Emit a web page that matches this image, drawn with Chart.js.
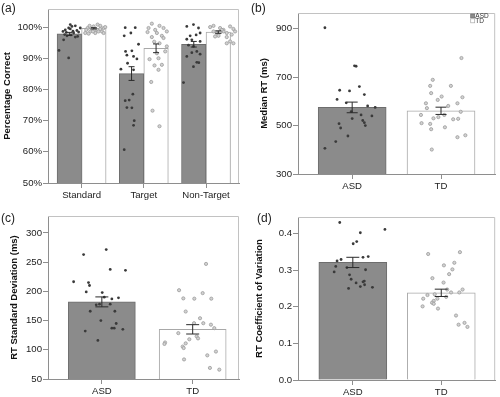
<!DOCTYPE html>
<html>
<head>
<meta charset="utf-8">
<script src="https://cdn.jsdelivr.net/npm/chart.js@4.4.1/dist/chart.umd.min.js"></script>
<style>
  html, body { margin: 0; padding: 0; background: #fff; }
  #figure { position: relative; width: 500px; height: 397px; font-family: "Liberation Sans", Arial, sans-serif; }
  .panel { position: absolute; }
  .tag { position: absolute; font-size: 12px; line-height: 14px; color: #222; }
</style>
</head>
<body>
<div id="figure">
  <div class="panel" style="left:0;top:0;width:250px;height:200px"><canvas id="chartA"></canvas></div>
  <div class="panel" style="left:250px;top:0;width:250px;height:200px"><canvas id="chartB"></canvas></div>
  <div class="panel" style="left:0;top:200px;width:250px;height:197px"><canvas id="chartC"></canvas></div>
  <div class="panel" style="left:250px;top:200px;width:250px;height:197px"><canvas id="chartD"></canvas></div>
  <div class="tag" style="left:1px;top:1px">(a)</div>
  <div class="tag" style="left:251px;top:1px">(b)</div>
  <div class="tag" style="left:1px;top:211px">(c)</div>
  <div class="tag" style="left:257px;top:211px">(d)</div>
</div>
<script>
Chart.defaults.font.family = "'Liberation Sans', Arial, sans-serif";
Chart.defaults.color = "#222";
Chart.defaults.animation = false;

const groupNames = ["ASD", "TD"];
const taskNames = ["Standard", "Target", "Non-Target"];

// (a) percentage correct per task
const accuracyTicks = [50, 60, 70, 80, 90, 100];
const accuracyAsd = [97.8, 85.1, 94.5];
const accuracyAsdSe = [0.5, 2.2, 0.9];
const accuracyTd = [99.6, 93.2, 98.4];
const accuracyTdSe = [0.2, 1.4, 0.4];
const accuracyAsdPoints = [
  [-0.363, 92.5], [-0.208, 90.1], [-0.289, 95.9], [-0.235, 97.2], [-0.299, 98.6], [-0.262, 99.1],
  [-0.208, 99.7], [-0.155, 100.2], [-0.182, 100.8], [-0.101, 100.4], [-0.075, 98.9], [-0.128, 98.1],
  [-0.048, 98.4], [-0.171, 97.5], [-0.101, 96.8], [-0.064, 97.0], [-0.182, 99.4], [-0.272, 97.6],
  [-0.139, 98.7], [-0.021, 99.7], [-0.246, 98.3],
  [0.701, 99.8], [0.862, 99.8], [0.685, 97.2], [0.792, 98.1], [0.915, 94.5], [0.707, 92.2],
  [0.808, 92.4], [0.728, 91.0], [0.835, 90.6], [0.889, 89.8], [0.739, 88.4], [0.632, 86.5],
  [0.835, 86.3], [0.824, 78.5], [0.701, 76.4], [0.765, 76.6], [0.728, 74.2], [0.808, 74.1],
  [0.846, 70.0], [0.835, 68.5], [0.685, 60.7],
  [1.798, 100.8], [1.691, 100.2], [1.879, 99.7], [1.905, 98.1], [1.745, 97.2], [1.841, 97.5],
  [1.691, 96.1], [1.772, 95.9], [1.905, 95.4], [1.718, 94.2], [1.798, 93.8], [1.852, 92.2],
  [1.772, 91.8], [1.691, 90.6], [1.905, 91.3], [1.852, 88.7], [1.884, 88.6], [1.798, 87.3], [1.638, 82.2]
];
const accuracyTdPoints = [
  [0.059, 98.1], [0.097, 99.7], [0.14, 98.6], [0.193, 100.2], [0.247, 99.1], [0.30, 100.4],
  [0.354, 99.7], [0.129, 100.4], [0.22, 98.1], [0.273, 98.6], [0.327, 98.6], [0.166, 99.4],
  [0.075, 99.1], [0.257, 100.8], [0.38, 100.0], [0.209, 99.1], [0.30, 99.4], [0.113, 97.9],
  [0.354, 98.1], [0.182, 98.6],
  [1.129, 101.1], [1.252, 100.4], [1.076, 99.7], [1.317, 99.7], [1.183, 99.1], [1.37, 98.6],
  [1.06, 98.4], [1.21, 98.1], [1.29, 97.2], [1.129, 96.8], [1.317, 96.5], [1.167, 95.3],
  [1.252, 94.8], [1.37, 93.8], [1.344, 92.2], [1.21, 91.6], [1.236, 90.0], [1.092, 89.7],
  [1.172, 87.7], [1.29, 87.9], [1.236, 86.3], [1.119, 82.4], [1.14, 73.2], [1.252, 68.2],
  [2.066, 100.0], [2.12, 100.4], [2.226, 99.7], [2.28, 99.1], [2.387, 100.2], [2.44, 99.4],
  [2.12, 98.6], [2.173, 98.1], [2.28, 98.6], [2.333, 98.1], [2.413, 97.6], [2.2, 97.2],
  [2.253, 99.1], [2.333, 96.8], [2.146, 97.0], [2.387, 95.4], [2.333, 94.8], [2.44, 94.8],
  [2.226, 98.3], [2.467, 98.6]
];

// (b) median RT
const medianTicks = [300, 500, 700, 900];
const medianMeans = [575, 561];
const medianSe = [22, 15];
const medianAsdPoints = [
  [-0.307, 904], [0.026, 747], [0.044, 745], [-0.141, 646], [-0.03, 643], [-0.17, 608],
  [0.081, 661], [0.137, 628], [-0.067, 594], [0.174, 581], [0.259, 575], [-0.011, 558],
  [0.1, 544], [0.222, 540], [0, 529], [0.119, 521], [0.137, 512], [0.148, 500],
  [-0.148, 508], [-0.13, 490], [-0.048, 457], [-0.185, 434], [-0.307, 406]
];
const medianTdPoints = [
  [1.23, 779], [0.907, 689], [0.878, 664], [0.889, 634], [1.111, 664], [1.007, 620],
  [0.963, 606], [0.83, 592], [1.081, 581], [1.185, 592], [1.241, 617], [0.841, 572],
  [0.774, 544], [1.037, 544], [0.97, 535], [0.915, 530], [1.137, 526], [1.193, 528],
  [1.222, 557], [0.781, 510], [0.878, 507], [1.044, 493], [0.889, 485], [1.185, 452],
  [1.274, 460], [0.896, 401]
];

// (c) RT standard deviation
const sdTicks = [50, 100, 150, 200, 250, 300];
const sdMeans = [182, 135];
const sdSe = [8.5, 8];
const sdAsdPoints = [
  [0.048, 271.6], [-0.201, 263], [0.092, 237.5], [0.26, 236], [-0.311, 216.5], [-0.147, 215],
  [-0.136, 210], [-0.172, 199], [0.004, 198], [0.183, 189], [0.11, 187], [0.026, 190],
  [-0.062, 177], [-0.026, 178], [0.092, 178], [0.143, 166], [-0.128, 166], [-0.011, 150],
  [0.158, 145], [0.11, 137], [0.136, 137], [0.231, 135], [-0.183, 132], [-0.044, 116]
];
const sdTdPoints = [
  [1.147, 247], [0.85, 202], [0.897, 188], [1.018, 187.5], [1.11, 197], [1.205, 187.5],
  [0.923, 165.5], [1.081, 154], [1.015, 145.5], [1.117, 145.5], [1.201, 143], [1.238, 137],
  [0.842, 128.5], [1.044, 123], [1.059, 119.5], [0.963, 118], [0.923, 111], [0.89, 105.5],
  [0.901, 103], [0.696, 112.5], [0.689, 110], [1.256, 97], [1.161, 90.5], [0.905, 83.5],
  [1.19, 69], [1.293, 66]
];

// (d) RT coefficient of variation
const cvTicks = [0, 0.1, 0.2, 0.3, 0.4];
const cvMeans = [0.321, 0.238];
const cvSe = [0.014, 0.010];
const cvAsdPoints = [
  [-0.148, 0.43], [0.363, 0.411], [0.085, 0.402], [0.044, 0.378], [0.004, 0.372], [-0.178, 0.325],
  [-0.133, 0.329], [-0.193, 0.31], [-0.211, 0.295], [-0.067, 0.307], [0.115, 0.335], [0.174, 0.337],
  [0.144, 0.301], [-0.037, 0.287], [-0.019, 0.275], [0.037, 0.265], [0.13, 0.27], [0.133, 0.26],
  [0.085, 0.255], [-0.048, 0.25], [0.222, 0.253], [0.115, 0.268]
];
const cvTdPoints = [
  [0.852, 0.344], [1.211, 0.349], [1.148, 0.32], [1.03, 0.313], [1.126, 0.302], [1.089, 0.289],
  [0.9, 0.278], [1.026, 0.266], [0.844, 0.232], [0.796, 0.222], [0.926, 0.234], [0.956, 0.222],
  [0.915, 0.216], [0.896, 0.211], [0.915, 0.208], [0.789, 0.201], [0.963, 0.195], [1.056, 0.227],
  [1.067, 0.247], [1.111, 0.239], [1.204, 0.239], [1.241, 0.247], [1.167, 0.176], [1.196, 0.151],
  [1.263, 0.156], [1.296, 0.145]
];

const colors = {
  asdFill: "#8b8b8b",
  asdEdge: "#6d6d6d",
  tdFill: "#ffffff",
  tdEdge: "#a8a8a8",
  asdDot: "#3a3a3a",
  tdDotFill: "#d2d2d2",
  tdDotEdge: "#9c9c9c",
  frame: "#c2c2c2",
  axis: "#8e8e8e",
  whisker: "#2a2a2a"
};

const errorBarPlugin = {
  id: "errorBars",
  afterDatasetsDraw(chart, args, opts) {
    const { ctx } = chart;
    const yScale = chart.scales.y;
    const half = opts.cap / 2;
    chart.data.datasets.forEach((dataset, di) => {
      if (!dataset.err) {
        return;
      }
      chart.getDatasetMeta(di).data.forEach((bar, i) => {
        const value = dataset.data[i].y;
        const top = yScale.getPixelForValue(value + dataset.err[i]);
        const bottom = yScale.getPixelForValue(value - dataset.err[i]);
        ctx.save();
        ctx.strokeStyle = colors.whisker;
        ctx.lineWidth = 1;
        ctx.beginPath();
        ctx.moveTo(bar.x, top);
        ctx.lineTo(bar.x, bottom);
        ctx.moveTo(bar.x - half, top);
        ctx.lineTo(bar.x + half, top);
        ctx.moveTo(bar.x - half, bottom);
        ctx.lineTo(bar.x + half, bottom);
        ctx.stroke();
        ctx.restore();
      });
    });
  }
};

// top and right sides of the plot box (left/bottom come from the axes)
const framePlugin = {
  id: "plotFrame",
  beforeDatasetsDraw(chart) {
    const { ctx, chartArea } = chart;
    ctx.save();
    ctx.strokeStyle = colors.frame;
    ctx.lineWidth = 1;
    ctx.beginPath();
    ctx.moveTo(chartArea.left, chartArea.top + 0.5);
    ctx.lineTo(chartArea.right - 0.5, chartArea.top + 0.5);
    ctx.lineTo(chartArea.right - 0.5, chartArea.bottom);
    ctx.stroke();
    ctx.restore();
  }
};

const cornerLegendPlugin = {
  id: "cornerLegend",
  afterDraw(chart, args, opts) {
    if (!opts.show) {
      return;
    }
    const { ctx, chartArea } = chart;
    const size = 4;
    const x = chartArea.right - 24.5;
    const fills = [colors.asdFill, colors.tdFill];
    const edges = [colors.asdEdge, colors.tdEdge];
    ctx.save();
    groupNames.forEach((name, i) => {
      const y = chartArea.top + 1 + i * 4.8;
      ctx.fillStyle = fills[i];
      ctx.fillRect(x, y, size, size);
      ctx.strokeStyle = edges[i];
      ctx.lineWidth = 0.7;
      ctx.strokeRect(x, y, size, size);
      ctx.fillStyle = "#333";
      ctx.font = "6.5px 'Liberation Sans', Arial, sans-serif";
      ctx.textBaseline = "middle";
      ctx.fillText(name, x + size + 0.6, y + size / 2 + 0.3);
    });
    ctx.restore();
  }
};

function toXY(pairs) {
  return pairs.map(([x, y]) => ({ x, y }));
}

function buildPanel(canvasId, spec) {
  const datasets = [
    {
      type: "scatter",
      data: toXY(spec.asdPoints),
      backgroundColor: colors.asdDot,
      borderColor: colors.asdDot,
      borderWidth: 0,
      pointRadius: 1.4,
      order: 0
    },
    {
      type: "scatter",
      data: toXY(spec.tdPoints),
      backgroundColor: colors.tdDotFill,
      borderColor: colors.tdDotEdge,
      borderWidth: 0.8,
      pointRadius: 1.6,
      order: 0
    },
    {
      type: "bar",
      label: groupNames[0],
      data: spec.asdBars,
      err: spec.asdErr,
      backgroundColor: colors.asdFill,
      borderColor: colors.asdEdge,
      borderWidth: 1,
      barThickness: spec.barWidth,
      grouped: false,
      order: 1
    },
    {
      type: "bar",
      label: groupNames[1],
      data: spec.tdBars,
      err: spec.tdErr,
      backgroundColor: colors.tdFill,
      borderColor: colors.tdEdge,
      borderWidth: 1,
      barThickness: spec.barWidth,
      grouped: false,
      order: 1
    }
  ];

  return new Chart(document.getElementById(canvasId), {
    type: "scatter",
    data: { datasets },
    options: {
      responsive: true,
      maintainAspectRatio: false,
      layout: { padding: { top: spec.box.top, right: spec.box.right, left: 0, bottom: 0 } },
      plugins: {
        legend: { display: false },
        tooltip: { enabled: false },
        errorBars: { cap: spec.cap },
        cornerLegend: { show: !!spec.legend }
      },
      scales: {
        x: {
          type: "linear",
          min: spec.xMin,
          max: spec.xMax,
          offset: false,
          afterBuildTicks: (scale) => {
            scale.ticks = spec.categories.map((label, i) => ({ value: i }));
          },
          afterFit: (scale) => {
            scale.height = spec.box.xHeight;
          },
          ticks: {
            autoSkip: false,
            maxRotation: 0,
            padding: 2,
            font: { size: 9.6 },
            color: "#222",
            callback: (value, index) => spec.categories[index]
          },
          grid: { drawOnChartArea: false, offset: false, tickLength: 5, color: colors.axis },
          border: { color: colors.axis }
        },
        y: {
          min: spec.yMin,
          max: spec.yMax,
          beginAtZero: false,
          afterBuildTicks: (scale) => {
            scale.ticks = spec.yTicks.map((v) => ({ value: v }));
          },
          afterFit: (scale) => {
            scale.width = spec.box.yWidth;
          },
          ticks: {
            padding: 1,
            font: { size: 9.6 },
            color: "#222",
            callback: spec.yFormat
          },
          grid: { drawOnChartArea: false, tickLength: 5, color: colors.axis },
          border: { color: colors.axis },
          title: {
            display: true,
            text: spec.title,
            font: { size: 9.5, weight: "bold" },
            color: "#111",
            padding: { top: spec.box.titlePad, bottom: 0 }
          }
        }
      }
    },
    plugins: [framePlugin, errorBarPlugin, cornerLegendPlugin]
  });
}

const barShift = 0.197;

buildPanel("chartA", {
  categories: taskNames,
  asdBars: accuracyAsd.map((v, i) => ({ x: i - barShift, y: v })),
  tdBars: accuracyTd.map((v, i) => ({ x: i + barShift, y: v })),
  asdErr: accuracyAsdSe,
  tdErr: accuracyTdSe,
  asdPoints: accuracyAsdPoints,
  tdPoints: accuracyTdPoints,
  xMin: -0.54, xMax: 2.53,
  yMin: 50, yMax: 105.8,
  yTicks: accuracyTicks,
  yFormat: (v) => v + "%",
  title: "Percentage Correct",
  barWidth: 24.5,
  cap: 6,
  box: { yWidth: 48, xHeight: 17, top: 9, right: 11, titlePad: 2 }
});

buildPanel("chartB", {
  categories: groupNames,
  asdBars: [{ x: 0, y: medianMeans[0] }],
  tdBars: [{ x: 1, y: medianMeans[1] }],
  asdErr: [medianSe[0]],
  tdErr: [medianSe[1]],
  asdPoints: medianAsdPoints,
  tdPoints: medianTdPoints,
  xMin: -0.61, xMax: 1.61,
  yMin: 300, yMax: 965,
  yTicks: medianTicks,
  yFormat: (v) => v,
  title: "Median RT (ms)",
  barWidth: 68,
  cap: 11,
  legend: true,
  box: { yWidth: 48, xHeight: 26, top: 13, right: 3, titlePad: 9 }
});

buildPanel("chartC", {
  categories: groupNames,
  asdBars: [{ x: 0, y: sdMeans[0] }],
  tdBars: [{ x: 1, y: sdMeans[1] }],
  asdErr: [sdSe[0]],
  tdErr: [sdSe[1]],
  asdPoints: sdAsdPoints,
  tdPoints: sdTdPoints,
  xMin: -0.593, xMax: 1.51,
  yMin: 50, yMax: 329,
  yTicks: sdTicks,
  yFormat: (v) => v,
  title: "RT Standard Deviation (ms)",
  barWidth: 67,
  cap: 13,
  box: { yWidth: 48, xHeight: 18, top: 16, right: 11, titlePad: 9 }
});

buildPanel("chartD", {
  categories: groupNames,
  asdBars: [{ x: 0, y: cvMeans[0] }],
  tdBars: [{ x: 1, y: cvMeans[1] }],
  asdErr: [cvSe[0]],
  tdErr: [cvSe[1]],
  asdPoints: cvAsdPoints,
  tdPoints: cvTdPoints,
  xMin: -0.62, xMax: 1.61,
  yMin: 0, yMax: 0.445,
  yTicks: cvTicks,
  yFormat: (v) => v.toFixed(1),
  title: "RT Coefficient of Variation",
  barWidth: 68,
  cap: 13,
  box: { yWidth: 48, xHeight: 17, top: 17, right: 2, titlePad: 4 }
});
</script>
</body>
</html>
